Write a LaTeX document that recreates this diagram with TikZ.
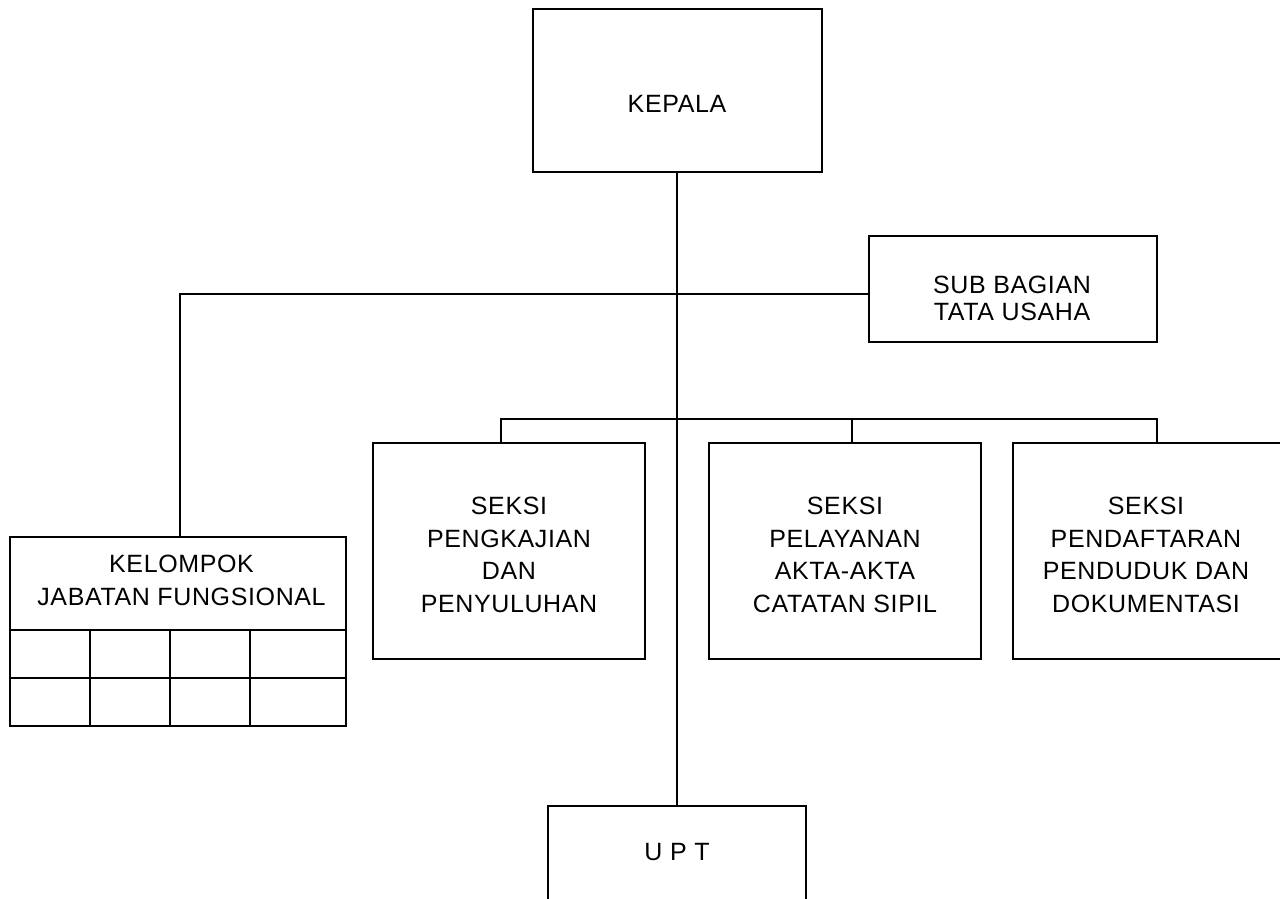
\documentclass[tikz,border=0pt]{standalone}
\usepackage{fontspec}
\setmainfont{Liberation Sans}[LetterSpace=2.5]
\tikzset{
  box/.style={draw, line width=2pt, rectangle, inner sep=0pt},
  txt/.style={inner sep=0pt, align=center, font=\fontsize{25}{32.5}\selectfont},
  conn/.style={line width=2pt},
}
\begin{document}
\begin{tikzpicture}[x=1pt,y=-1pt]
\useasboundingbox (0,0) rectangle (1280,898);
\clip (0,0) rectangle (1280,898);
% boxes
\node[box, minimum width=289pt, minimum height=163pt] (kepala) at (677.5,90.5) {};
\node[box, minimum width=288pt, minimum height=106pt] (sub) at (1013,289) {};
\node[box, minimum width=272pt, minimum height=216pt] (s1) at (509,551) {};
\node[box, minimum width=272pt, minimum height=216pt] (s2) at (845,551) {};
\node[box, minimum width=290pt, minimum height=216pt] (s3) at (1158,551) {};
\node[box, minimum width=336pt, minimum height=93pt] (kel) at (178,583.5) {};
\node[box, minimum width=336pt, minimum height=96pt] (kelgrid) at (178,678) {};
\node[box, minimum width=258pt, minimum height=130pt] (upt) at (677,871) {};
% grid lines
\draw[conn] (kelgrid.west) -- (kelgrid.east);
\draw[conn] (90,630) -- (90,726);
\draw[conn] (170,630) -- (170,726);
\draw[conn] (250,630) -- (250,726);
% texts
\node[txt] (kepalat) at (677,103.5) {KEPALA};
\node[txt, font=\fontsize{25}{27}\selectfont] (subt) at (1012,298.5) {SUB BAGIAN\\TATA USAHA};
\node[txt, font=\fontsize{25}{33}\selectfont] (kelt) at (181.5,580) {KELOMPOK\\JABATAN FUNGSIONAL};
\node[txt] (s1t) at (509,555) {SEKSI\\PENGKAJIAN\\DAN\\PENYULUHAN};
\node[txt] (s2t) at (845,555) {SEKSI\\PELAYANAN\\AKTA-AKTA\\CATATAN SIPIL};
\node[txt] (s3t) at (1146,555) {SEKSI\\PENDAFTARAN\\PENDUDUK DAN\\DOKUMENTASI};
\node[txt] (uptt) at (677,852) {U P T};
% connectors
\coordinate (d1) at (501,419);
\coordinate (d2) at (852,419);
\coordinate (d3) at (1157,419);
\coordinate (h) at (180,294);
\draw[conn] (upt.north |- kepala.south) -- (upt.north);
\draw[conn] (h |- kel.north) -- (h) -- (h -| sub.west);
\draw[conn] (d1 |- s1.north) -- (d1) -- (d3) -- (d3 |- s3.north);
\draw[conn] (d2) -- (d2 |- s2.north);
\end{tikzpicture}
\end{document}
